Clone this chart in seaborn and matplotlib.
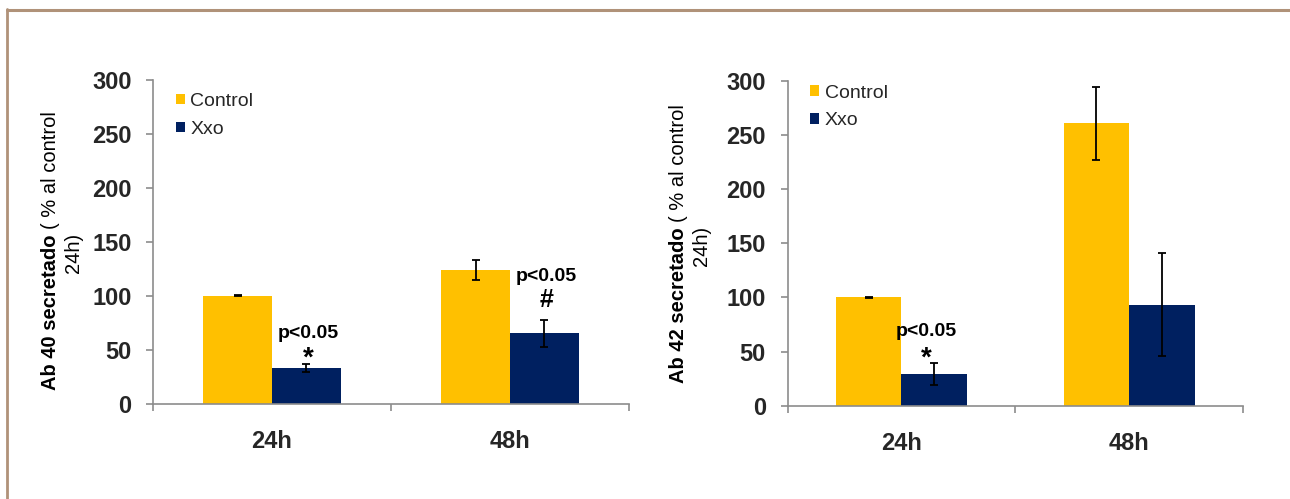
import matplotlib
matplotlib.use("Agg")
import matplotlib.pyplot as plt
from matplotlib.lines import Line2D
import numpy as np
import pandas as pd
import seaborn as sns

# ---- data -------------------------------------------------------------
hours = ["24h", "48h"]
groups = ["Control", "Xxo"]

ab40_control = [100.3, 124.1]
ab40_control_err = [0.5, 9.3]
ab40_xxo = [33.6, 65.4]
ab40_xxo_err = [3.7, 12.3]

ab42_control = [100.3, 260.5]
ab42_control_err = [0.5, 33.7]
ab42_xxo = [29.5, 93.4]
ab42_xxo_err = [10.0, 47.7]

yticks = [0, 50, 100, 150, 200, 250, 300]
colors = {"Control": "#FFC000", "Xxo": "#002060"}

# ---- style ------------------------------------------------------------
sns.set_theme(style="white")
plt.rcParams["font.family"] = ["Liberation Sans", "DejaVu Sans"]
AXIS_GRAY = "#8C8C8C"
FRAME = "#B09279"

W, H = 1290, 499
fig = plt.figure(figsize=(W / 100, H / 100), dpi=100)
fig.patch.set_facecolor("white")


def long_frame(ctrl, xxo):
    return pd.DataFrame({
        "hour": hours * 2,
        "group": ["Control"] * len(hours) + ["Xxo"] * len(hours),
        "value": list(ctrl) + list(xxo),
    })


def draw_panel(rect, ctrl, ctrl_err, xxo, xxo_err, legend_anchor, notes):
    ax = fig.add_axes(rect)
    df = long_frame(ctrl, xxo)
    sns.barplot(data=df, x="hour", y="value", hue="group", order=hours,
                hue_order=groups, palette=colors, width=0.576, gap=0,
                errorbar=None, saturation=1, linewidth=0, ax=ax)

    errs = {"Control": ctrl_err, "Xxo": xxo_err}
    centers = {}
    for cont, grp in zip(ax.containers, groups):
        xs = [p.get_x() + p.get_width() / 2 for p in cont.patches]
        ys = [p.get_height() for p in cont.patches]
        centers[grp] = xs
        ax.errorbar(xs, ys, yerr=errs[grp], fmt="none", ecolor="black",
                    elinewidth=1.3, capsize=2.8, capthick=1.3, zorder=5)

    ax.set_xlim(-0.5, 1.5)
    ax.set_ylim(0, 300)
    ax.set_yticks(yticks)
    ax.set_yticklabels([str(v) for v in yticks], fontweight="bold",
                       fontsize=17)
    ax.set_xticks(range(len(hours)))
    ax.set_xticklabels(hours, fontweight="bold", fontsize=17)
    ax.set_xticks([-0.5, 0.5, 1.5], minor=True)
    ax.tick_params(axis="x", which="major", length=0, pad=19)
    ax.tick_params(axis="x", which="minor", length=5, width=1.2,
                   direction="out", color=AXIS_GRAY, bottom=True)
    ax.tick_params(axis="y", which="major", length=5, width=1.2,
                   direction="out", color=AXIS_GRAY, left=True, pad=10.5)
    ax.set_xlabel("")
    ax.set_ylabel("")
    for side in ("top", "right"):
        ax.spines[side].set_visible(False)
    for side in ("left", "bottom"):
        ax.spines[side].set_color(AXIS_GRAY)
        ax.spines[side].set_linewidth(1.2)

    handles, labels = ax.get_legend_handles_labels()
    ax.legend(handles, labels, loc="upper left", bbox_to_anchor=legend_anchor,
              frameon=False, fontsize=14, handlelength=0.47, handleheight=0.45,
              handletextpad=0.28, labelspacing=0.56, borderpad=0,
              borderaxespad=0)

    for idx, dx, text, y, size in notes:
        ax.text(centers["Xxo"][idx] + dx, y, text, ha="center", va="baseline",
                fontweight="bold", fontsize=size, color="black", zorder=6)
    return ax


# left panel: Ab 40
draw_panel([153 / W, 95 / H, 476 / W, 324 / H],
           ab40_control, ab40_control_err, ab40_xxo, ab40_xxo_err,
           (0.048, 0.960),
           [(0, 0.01, "p<0.05", 60.8, 14),
            (0, 0.01, "*", 35.5, 20),
            (1, 0.01, "p<0.05", 113.9, 14),
            (1, 0.01, "#", 90.1, 18)])

# right panel: Ab 42
draw_panel([787.5 / W, 93.3 / H, 455.5 / W, 325 / H],
           ab42_control, ab42_control_err, ab42_xxo, ab42_xxo_err,
           (0.050, 0.988),
           [(0, -0.035, "p<0.05", 64.3, 14),
            (0, -0.035, "*", 37.0, 20)])


# y-axis titles: bold lead-in followed by regular text, wrapped onto two lines
def axis_title(x1, y_start, x2, y_mid2, bold_part, rest, line2):
    kw = dict(rotation=90, rotation_mode="anchor", va="baseline",
              fontsize=14.5, color="black")
    t1 = fig.text(x1 / W, y_start / H, bold_part, ha="left",
                  fontweight="bold", **kw)
    fig.canvas.draw()
    ext = t1.get_window_extent()
    fig.text(x1 / W, (y_start + ext.height) / H, rest, ha="left", **kw)
    fig.text(x2 / W, y_mid2 / H, line2, ha="center", **kw)


axis_title(55.5, 109, 78.5, 246.5, "Ab 40 secretado ", "( % al control", "24h)")
axis_title(684.5, 116, 707, 253, "Ab 42 secretado ", "( % al control", "24h)")

# thin frame along the top and left edges
fig.add_artist(Line2D([7 / W, 1.0], [1 - 9.5 / H, 1 - 9.5 / H],
                      transform=fig.transFigure, color=FRAME, linewidth=2.2))
fig.add_artist(Line2D([7.2 / W, 7.2 / W], [0, 1 - 8.5 / H],
                      transform=fig.transFigure, color=FRAME, linewidth=2.0))

fig.savefig("out.png", dpi=100, facecolor="white")
